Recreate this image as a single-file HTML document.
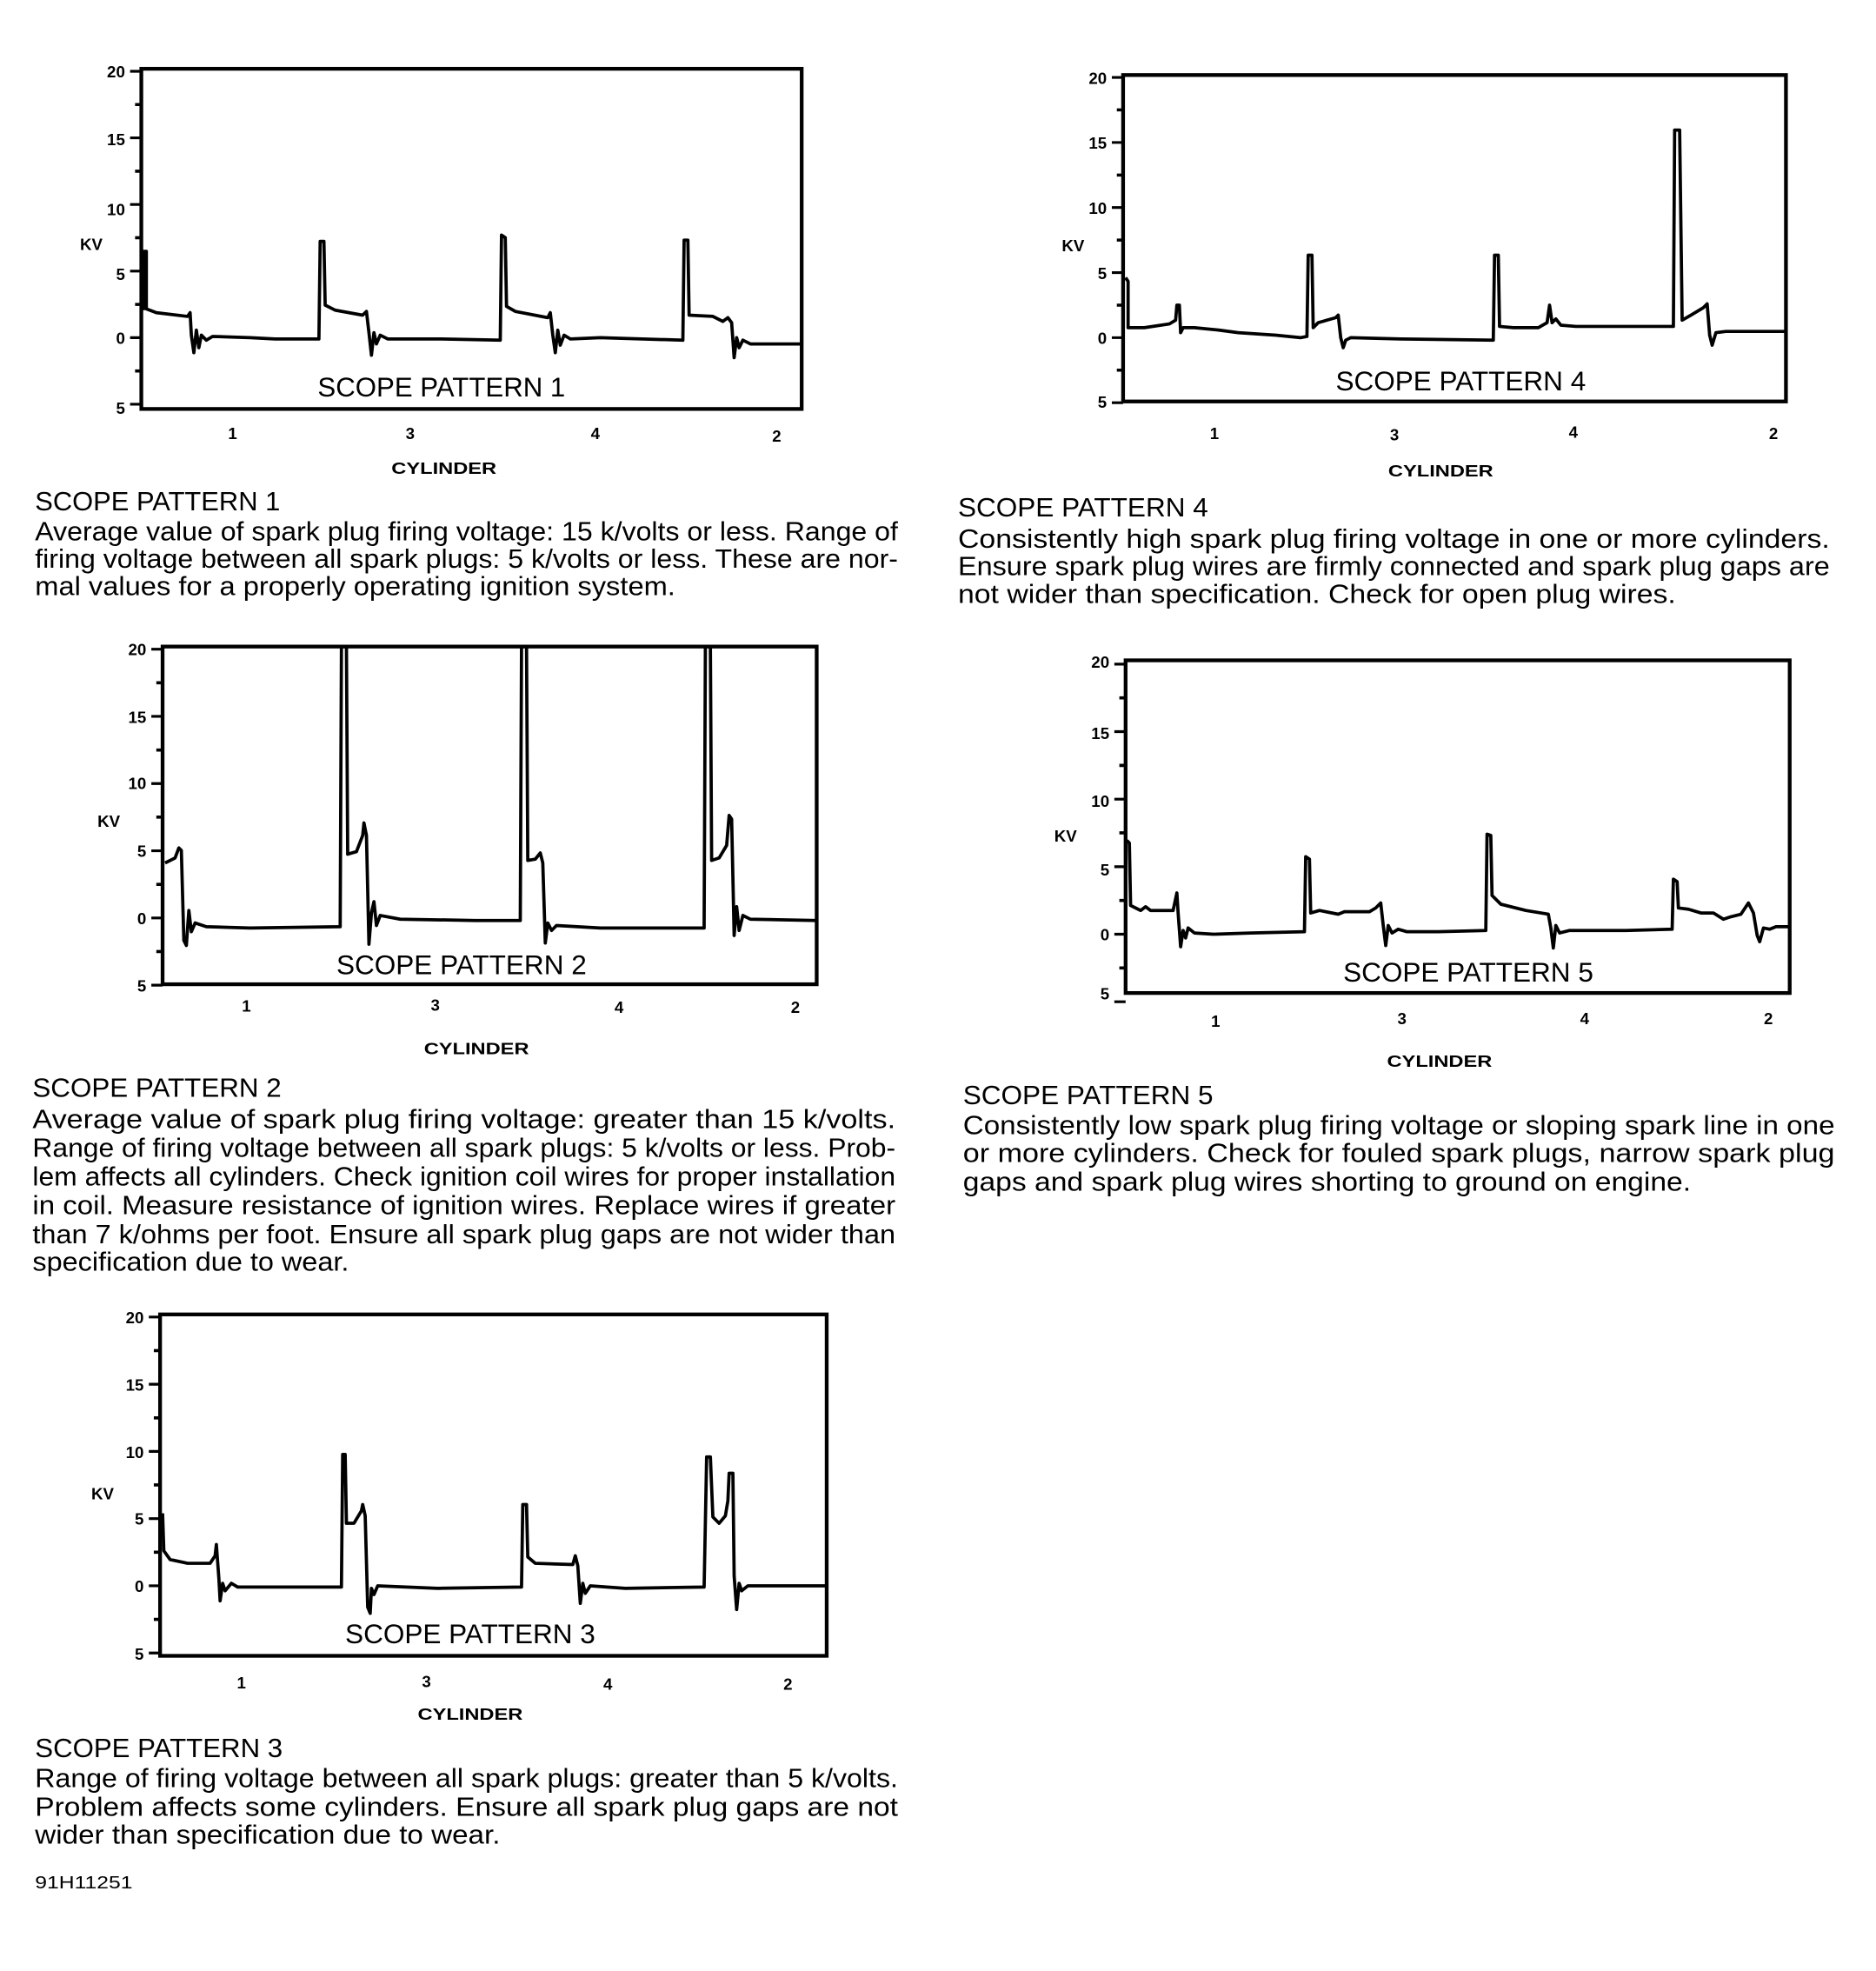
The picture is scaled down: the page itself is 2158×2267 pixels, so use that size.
<!DOCTYPE html>
<html><head><meta charset="utf-8"><style>
html,body{margin:0;padding:0;background:#fff;}
svg{display:block;}
text{font-family:"Liberation Sans",sans-serif;fill:#000;}
.tk{font-size:13px;font-weight:bold;text-anchor:end;}
.cy{font-size:13px;font-weight:bold;text-anchor:middle;}
.tt{font-size:22px;}
.cp{font-size:21px;}
.tr{fill:none;stroke:#000;stroke-width:2.6;stroke-linejoin:round;}
.bx{fill:none;stroke:#000;stroke-width:3;}
</style></head><body>
<svg width="2158" height="2267" viewBox="0 0 1500 1576" preserveAspectRatio="none" xmlns="http://www.w3.org/2000/svg">
<defs>
<g id="ax" stroke="#000">
<path stroke-width="2.2" d="M-9,-213H0M-9,-159.75H0M-9,-106.5H0M-9,-53.25H0M-9,0H0M-9,53.25H0"/>
<path stroke-width="2.5" d="M-5,-186.4H0M-5,-133.1H0M-5,-79.9H0M-5,-26.6H0M-5,26.6H0"/>
</g>
</defs>

<!-- Chart 1 -->
<rect class="bx" x="113" y="55" width="528" height="272"/>
<use href="#ax" transform="translate(113,270)"/>
<text class="tk" x="100" y="62">20</text><text class="tk" x="100" y="116">15</text><text class="tk" x="100" y="172">10</text><text class="tk" x="100" y="224">5</text><text class="tk" x="100" y="275">0</text><text class="tk" x="100" y="331">5</text>
<text class="tk" x="73" y="200" style="text-anchor:middle">KV</text>
<text class="cy" x="186" y="351">1</text><text class="cy" x="328" y="351">3</text><text class="cy" x="476" y="351">4</text><text class="cy" x="621" y="353">2</text>
<text class="cy" x="355" y="379" textLength="84" lengthAdjust="spacingAndGlyphs">CYLINDER</text>
<text class="tt" x="254" y="317" textLength="198" lengthAdjust="spacingAndGlyphs">SCOPE PATTERN 1</text>
<path class="tr" d="M115,248 L115,201 L117,201 L117,247 L125,250 L150,253 L152,250 L153,268 L155,282 L157,264 L159,278 L161,268 L165,272 L170,269 L200,270 L220,271 L255,271 L256,193 L259,193 L260,244 L268,248 L290,252 L293,249 L295,266 L297,284 L299,266 L301,275 L304,268 L310,271 L350,271 L400,272 L401,188 L404,190 L405,245 L412,249 L438,254 L440,250 L442,268 L444,282 L446,264 L448,276 L451,268 L456,271 L480,270 L546,272 L547,192 L550,192 L551,252 L570,253 L578,257 L582,254 L585,258 L587,286 L589,270 L591,278 L594,272 L600,275 L641,275"/>
<text class="cp" x="28" y="408" textLength="196" lengthAdjust="spacingAndGlyphs">SCOPE PATTERN 1</text>
<text class="cp" x="28" y="432" textLength="690" lengthAdjust="spacingAndGlyphs">Average value of spark plug firing voltage: 15 k/volts or less. Range of</text>
<text class="cp" x="28" y="454" textLength="690" lengthAdjust="spacingAndGlyphs">firing voltage between all spark plugs: 5 k/volts or less. These are nor-</text>
<text class="cp" x="28" y="476" textLength="512" lengthAdjust="spacingAndGlyphs">mal values for a properly operating ignition system.</text>

<!-- Chart 4 -->
<rect class="bx" x="898" y="60" width="530" height="261"/>
<use href="#ax" transform="translate(898,270) scale(1,0.977)"/>
<text class="tk" x="885" y="67">20</text><text class="tk" x="885" y="119">15</text><text class="tk" x="885" y="171">10</text><text class="tk" x="885" y="223">5</text><text class="tk" x="885" y="275">0</text><text class="tk" x="885" y="326">5</text>
<text class="tk" x="858" y="201" style="text-anchor:middle">KV</text>
<text class="cy" x="971" y="351">1</text><text class="cy" x="1115" y="352">3</text><text class="cy" x="1258" y="350">4</text><text class="cy" x="1418" y="351">2</text>
<text class="cy" x="1152" y="381" textLength="84" lengthAdjust="spacingAndGlyphs">CYLINDER</text>
<text class="tt" x="1068" y="312" textLength="200" lengthAdjust="spacingAndGlyphs">SCOPE PATTERN 4</text>
<path class="tr" d="M900,222 L902,225 L902,262 L915,262 L935,259 L940,256 L941,244 L943,244 L944,266 L946,262 L955,262 L975,264 L990,266 L1020,268 L1040,270 L1045,269 L1046,204 L1049,204 L1050,262 L1054,258 L1068,254 L1070,252 L1072,270 L1074,278 L1076,272 L1080,270 L1120,271 L1194,272 L1195,204 L1198,204 L1199,261 L1210,262 L1230,262 L1237,258 L1239,244 L1241,258 L1244,255 L1248,260 L1260,261 L1338,261 L1339,104 L1343,104 L1345,256 L1352,252 L1362,246 L1365,243 L1367,268 L1369,276 L1372,266 L1380,265 L1428,265"/>
<text class="cp" x="766" y="413" textLength="200" lengthAdjust="spacingAndGlyphs">SCOPE PATTERN 4</text>
<text class="cp" x="766" y="438" textLength="697" lengthAdjust="spacingAndGlyphs">Consistently high spark plug firing voltage in one or more cylinders.</text>
<text class="cp" x="766" y="460" textLength="697" lengthAdjust="spacingAndGlyphs">Ensure spark plug wires are firmly connected and spark plug gaps are</text>
<text class="cp" x="766" y="482" textLength="574" lengthAdjust="spacingAndGlyphs">not wider than specification. Check for open plug wires.</text>

<!-- Chart 2 -->
<rect class="bx" x="130" y="517" width="523" height="270"/>
<use href="#ax" transform="translate(130,734) scale(1,1.009)"/>
<text class="tk" x="117" y="524">20</text><text class="tk" x="117" y="578">15</text><text class="tk" x="117" y="631">10</text><text class="tk" x="117" y="685">5</text><text class="tk" x="117" y="739">0</text><text class="tk" x="117" y="793">5</text>
<text class="tk" x="87" y="661" style="text-anchor:middle">KV</text>
<text class="cy" x="197" y="809">1</text><text class="cy" x="348" y="808">3</text><text class="cy" x="495" y="810">4</text><text class="cy" x="636" y="810">2</text>
<text class="cy" x="381" y="843" textLength="84" lengthAdjust="spacingAndGlyphs">CYLINDER</text>
<text class="tt" x="269" y="779" textLength="200" lengthAdjust="spacingAndGlyphs">SCOPE PATTERN 2</text>
<path class="tr" d="M132,690 L140,686 L143,678 L145,680 L147,752 L149,756 L151,728 L153,745 L156,738 L165,741 L200,742 L272,741 L273,517 L277,517 L278,683 L285,681 L290,668 L291,658 L293,668 L295,755 L297,730 L299,721 L301,740 L304,732 L320,735 L380,736 L416,736 L417,517 L421,517 L422,688 L428,687 L432,682 L434,690 L436,754 L438,738 L441,744 L445,740 L480,742 L563,742 L564,517 L568,517 L569,688 L575,686 L581,676 L583,652 L585,655 L587,748 L589,725 L591,744 L594,732 L600,735 L653,736"/>
<text class="cp" x="26" y="877" textLength="199" lengthAdjust="spacingAndGlyphs">SCOPE PATTERN 2</text>
<text class="cp" x="26" y="902" textLength="690" lengthAdjust="spacingAndGlyphs">Average value of spark plug firing voltage: greater than 15 k/volts.</text>
<text class="cp" x="26" y="925" textLength="690" lengthAdjust="spacingAndGlyphs">Range of firing voltage between all spark plugs: 5 k/volts or less. Prob-</text>
<text class="cp" x="26" y="948" textLength="690" lengthAdjust="spacingAndGlyphs">lem affects all cylinders. Check ignition coil wires for proper installation</text>
<text class="cp" x="26" y="971" textLength="690" lengthAdjust="spacingAndGlyphs">in coil. Measure resistance of ignition wires. Replace wires if greater</text>
<text class="cp" x="26" y="994" textLength="690" lengthAdjust="spacingAndGlyphs">than 7 k/ohms per foot. Ensure all spark plug gaps are not wider than</text>
<text class="cp" x="26" y="1016" textLength="253" lengthAdjust="spacingAndGlyphs">specification due to wear.</text>

<!-- Chart 5 -->
<rect class="bx" x="900" y="528" width="531" height="266"/>
<use href="#ax" transform="translate(900,747) scale(1,1.014)"/>
<text class="tk" x="887" y="534">20</text><text class="tk" x="887" y="591">15</text><text class="tk" x="887" y="645">10</text><text class="tk" x="887" y="700">5</text><text class="tk" x="887" y="752">0</text><text class="tk" x="887" y="799">5</text>
<text class="tk" x="852" y="673" style="text-anchor:middle">KV</text>
<text class="cy" x="972" y="821">1</text><text class="cy" x="1121" y="819">3</text><text class="cy" x="1267" y="819">4</text><text class="cy" x="1414" y="819">2</text>
<text class="cy" x="1151" y="853" textLength="84" lengthAdjust="spacingAndGlyphs">CYLINDER</text>
<text class="tt" x="1074" y="785" textLength="200" lengthAdjust="spacingAndGlyphs">SCOPE PATTERN 5</text>
<path class="tr" d="M901,672 L903,674 L904,724 L912,728 L916,725 L920,728 L938,728 L941,714 L942,730 L944,757 L946,744 L948,750 L950,742 L955,746 L970,747 L1000,746 L1043,745 L1044,685 L1047,687 L1048,730 L1055,728 L1070,731 L1075,729 L1095,729 L1100,726 L1104,722 L1106,740 L1108,756 L1110,740 L1113,746 L1118,743 L1125,745 L1150,745 L1188,744 L1189,667 L1192,668 L1193,716 L1200,723 L1220,728 L1238,731 L1240,742 L1242,758 L1244,740 L1247,746 L1255,744 L1300,744 L1337,743 L1338,703 L1341,705 L1342,726 L1350,727 L1360,730 L1370,730 L1378,735 L1384,733 L1392,731 L1398,722 L1402,730 L1405,748 L1407,753 L1410,742 L1415,743 L1420,741 L1431,741"/>
<text class="cp" x="770" y="883" textLength="200" lengthAdjust="spacingAndGlyphs">SCOPE PATTERN 5</text>
<text class="cp" x="770" y="907" textLength="697" lengthAdjust="spacingAndGlyphs">Consistently low spark plug firing voltage or sloping spark line in one</text>
<text class="cp" x="770" y="929" textLength="697" lengthAdjust="spacingAndGlyphs">or more cylinders. Check for fouled spark plugs, narrow spark plug</text>
<text class="cp" x="770" y="952" textLength="582" lengthAdjust="spacingAndGlyphs">gaps and spark plug wires shorting to ground on engine.</text>

<!-- Chart 3 -->
<rect class="bx" x="128" y="1051" width="533" height="273"/>
<use href="#ax" transform="translate(128,1268) scale(1,1.009)"/>
<text class="tk" x="115" y="1058">20</text><text class="tk" x="115" y="1112">15</text><text class="tk" x="115" y="1166">10</text><text class="tk" x="115" y="1219">5</text><text class="tk" x="115" y="1273">0</text><text class="tk" x="115" y="1327">5</text>
<text class="tk" x="82" y="1199" style="text-anchor:middle">KV</text>
<text class="cy" x="193" y="1350">1</text><text class="cy" x="341" y="1349">3</text><text class="cy" x="486" y="1351">4</text><text class="cy" x="630" y="1351">2</text>
<text class="cy" x="376" y="1375" textLength="84" lengthAdjust="spacingAndGlyphs">CYLINDER</text>
<text class="tt" x="276" y="1314" textLength="200" lengthAdjust="spacingAndGlyphs">SCOPE PATTERN 3</text>
<path class="tr" d="M130,1210 L131,1240 L136,1247 L150,1250 L168,1250 L172,1244 L173,1235 L175,1262 L176,1280 L178,1266 L180,1272 L185,1266 L190,1269 L273,1269 L274,1163 L276,1163 L277,1218 L283,1218 L289,1208 L290,1203 L292,1212 L294,1285 L296,1290 L297,1270 L299,1275 L302,1268 L350,1270 L417,1269 L418,1203 L421,1203 L422,1245 L428,1250 L458,1251 L460,1244 L462,1252 L464,1282 L466,1266 L468,1274 L472,1268 L500,1270 L563,1269 L565,1165 L568,1165 L570,1213 L575,1218 L580,1212 L582,1200 L583,1178 L586,1178 L587,1260 L589,1287 L591,1266 L593,1272 L598,1268 L661,1268"/>
<text class="cp" x="28" y="1405" textLength="198" lengthAdjust="spacingAndGlyphs">SCOPE PATTERN 3</text>
<text class="cp" x="28" y="1429" textLength="690" lengthAdjust="spacingAndGlyphs">Range of firing voltage between all spark plugs: greater than 5 k/volts.</text>
<text class="cp" x="28" y="1452" textLength="690" lengthAdjust="spacingAndGlyphs">Problem affects some cylinders. Ensure all spark plug gaps are not</text>
<text class="cp" x="28" y="1474" textLength="372" lengthAdjust="spacingAndGlyphs">wider than specification due to wear.</text>
<text x="28" y="1510" style="font-size:14px" textLength="78" lengthAdjust="spacingAndGlyphs">91H11251</text>
</svg>
</body></html>
